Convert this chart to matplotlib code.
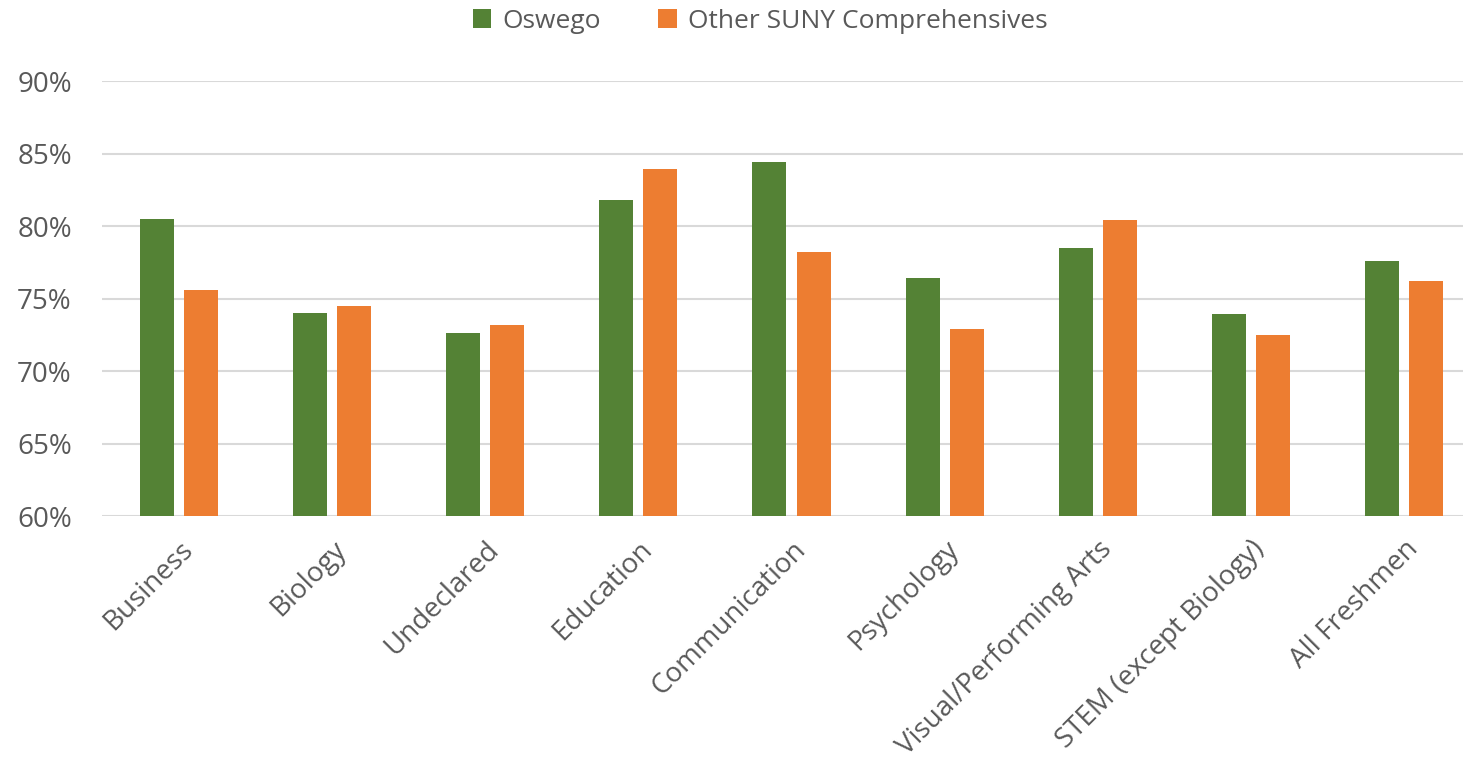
import numpy as np
import matplotlib.pyplot as plt
from matplotlib.ticker import FuncFormatter

# data
categories = ['Business', 'Biology', 'Undeclared', 'Education', 'Communication',
              'Psychology', 'Visual/Performing Arts', 'STEM (except Biology)', 'All Freshmen']
oswego = [80.5, 74.0, 72.6, 81.8, 84.4, 76.4, 78.5, 73.9, 77.6]
other_suny = [75.6, 74.5, 73.2, 83.9, 78.2, 72.9, 80.4, 72.5, 76.2]
series_names = ['Oswego', 'Other SUNY Comprehensives']

plt.rcParams['font.family'] = ['Open Sans', 'DejaVu Sans']
text_color = '#595959'

fig = plt.figure(figsize=(14.63, 7.63), dpi=100)
# plot area runs a little past the right edge, as in the original
ax = fig.add_axes([0.0700, 0.3237, 0.942, 0.5701])

x = np.arange(len(categories))
w = 0.222
off = 0.144
ax.bar(x - off, oswego, w, color='#548235', label=series_names[0], zorder=3)
ax.bar(x + off, other_suny, w, color='#ED7D31', label=series_names[1], zorder=3)

ax.set_ylim(60, 90)
ax.set_xlim(-0.5, len(categories) - 0.5)
ax.set_yticks(range(60, 91, 5))
ax.yaxis.set_major_formatter(FuncFormatter(lambda v, p: f'{v:.0f}%'))
ax.grid(axis='y', color='#d9d9d9', linewidth=1.5, zorder=0)

for s in ax.spines.values():
    s.set_visible(False)
ax.tick_params(axis='both', length=0, labelsize=20, colors=text_color)
ax.tick_params(axis='y', pad=22)
ax.tick_params(axis='x', pad=14)
ax.set_xticks(x)
ax.set_xticklabels(categories, rotation=45, ha='right', rotation_mode='anchor')

fig.legend(loc='center', bbox_to_anchor=(0.5195, 0.972), ncol=2, frameon=False,
           fontsize=19, labelcolor=text_color, handlelength=0.7, handleheight=0.7,
           columnspacing=2.2, handletextpad=0.4)

fig.savefig('out.png', dpi=100)
